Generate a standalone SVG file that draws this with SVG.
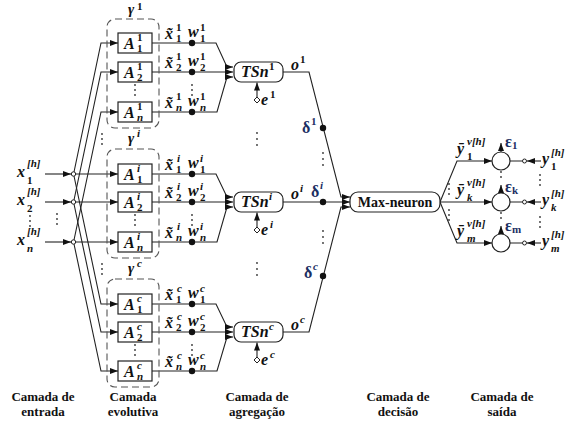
<svg xmlns="http://www.w3.org/2000/svg" width="569" height="421" viewBox="0 0 569 421">
<defs>
<style>
.ln{fill:none;stroke:#222;stroke-width:1.1}
.bx{fill:#fff;stroke:#222;stroke-width:1.2}
.dsh{fill:none;stroke:#555;stroke-width:1.1;stroke-dasharray:7 4}
.dot{fill:#111}
.sd{fill:#333}
.oc{fill:#fff;stroke:#222;stroke-width:1}
.m{font-family:"Liberation Serif","Times New Roman",serif;font-weight:bold;font-style:italic;font-size:16px;fill:#111}
.s{font-size:11px}
.u{font-style:normal}
.g{fill:#1c2f63;font-style:normal}
.cap{font-family:"Liberation Serif","Times New Roman",serif;font-weight:bold;font-size:13px;text-anchor:middle;fill:#111}
.mx{font-family:"Liberation Serif","Times New Roman",serif;font-weight:bold;font-size:14px;text-anchor:middle;fill:#111}
</style>
<marker id="ah" viewBox="0 0 8 6" markerWidth="8" markerHeight="6" refX="8" refY="3" orient="auto" markerUnits="userSpaceOnUse"><path d="M0,0L8,3L0,6z" fill="#111"/></marker>
</defs>
<rect width="569" height="421" fill="#fff"/>

<g id="connectors">
  <path class="ln" d="M45,174L71,174" marker-end="url(#ah)"/>
  <path class="ln" d="M45,202L71,202" marker-end="url(#ah)"/>
  <path class="ln" d="M45,242L71,242" marker-end="url(#ah)"/>
  <path class="ln" d="M75,174L118,174" marker-end="url(#ah)"/>
  <path class="ln" d="M75,202L118,202" marker-end="url(#ah)"/>
  <path class="ln" d="M75,242L118,242" marker-end="url(#ah)"/>
  <path class="ln" d="M74,172L101,43L118,43" marker-end="url(#ah)"/>
  <path class="ln" d="M74,200L101,72L118,72" marker-end="url(#ah)"/>
  <path class="ln" d="M74,240L101,112L118,112" marker-end="url(#ah)"/>
  <path class="ln" d="M74,176L101,304L118,304" marker-end="url(#ah)"/>
  <path class="ln" d="M74,204L101,332L118,332" marker-end="url(#ah)"/>
  <path class="ln" d="M74,244L101,371L118,371" marker-end="url(#ah)"/>
  <path class="ln" d="M152,43H192M152,72H192M152,112H192"/>
  <path class="ln" d="M152,174H192M152,202H192M152,242H192"/>
  <path class="ln" d="M152,304H192M152,332H192M152,371H192"/>
  <path class="ln" d="M192,43L216,43L227,67L233,67" marker-end="url(#ah)"/>
  <path class="ln" d="M192,72L233,72" marker-end="url(#ah)"/>
  <path class="ln" d="M192,112L217,112L227,77L233,77" marker-end="url(#ah)"/>
  <path class="ln" d="M192,174L216,174L227,197L233,197" marker-end="url(#ah)"/>
  <path class="ln" d="M192,202L233,202" marker-end="url(#ah)"/>
  <path class="ln" d="M192,242L217,242L227,207L233,207" marker-end="url(#ah)"/>
  <path class="ln" d="M192,304L216,304L227,327L233,327" marker-end="url(#ah)"/>
  <path class="ln" d="M192,332L233,332" marker-end="url(#ah)"/>
  <path class="ln" d="M192,371L217,371L227,337L233,337" marker-end="url(#ah)"/>
  <path class="ln" d="M257,97L257,82.5" marker-end="url(#ah)"/>
  <path class="ln" d="M257,227L257,212.5" marker-end="url(#ah)"/>
  <path class="ln" d="M257,357L257,342.5" marker-end="url(#ah)"/>
  <path class="ln" d="M283,72L309,72L341,197L350,197" marker-end="url(#ah)"/>
  <path class="ln" d="M283,202L350,202" marker-end="url(#ah)"/>
  <path class="ln" d="M283,332L309,332L341,207L350,207" marker-end="url(#ah)"/>
  <path class="ln" d="M440,202L457,161L492,161" marker-end="url(#ah)"/>
  <path class="ln" d="M440,202L492,202" marker-end="url(#ah)"/>
  <path class="ln" d="M440,202L457,243L492,243" marker-end="url(#ah)"/>
  <path class="ln" d="M501,152L501,143" marker-end="url(#ah)"/>
  <path class="ln" d="M501,193L501,185" marker-end="url(#ah)"/>
  <path class="ln" d="M501,234L501,226" marker-end="url(#ah)"/>
  <path class="ln" d="M541,161L527,161" marker-end="url(#ah)"/>
  <path class="ln" d="M541,202L527,202" marker-end="url(#ah)"/>
  <path class="ln" d="M541,243L527,243" marker-end="url(#ah)"/>
  <path class="ln" d="M522.5,161H510M522.5,202H510M522.5,243H510"/>
</g>

<g id="junctions">
  <circle class="oc" cx="73.5" cy="174" r="2.2"/>
  <circle class="oc" cx="73.5" cy="202" r="2.2"/>
  <circle class="oc" cx="73.5" cy="242" r="2.2"/>
  <circle class="oc" cx="524.5" cy="161" r="2"/>
  <circle class="oc" cx="524.5" cy="202" r="2"/>
  <circle class="oc" cx="524.5" cy="243" r="2"/>
  <path class="oc" d="M257,97l3,3l-3,3l-3,-3z"/>
  <path class="oc" d="M257,227l3,3l-3,3l-3,-3z"/>
  <path class="oc" d="M257,357l3,3l-3,3l-3,-3z"/>
  <circle class="dot" cx="192" cy="43" r="3.2"/><circle class="dot" cx="192" cy="72" r="3.2"/><circle class="dot" cx="192" cy="112" r="3.2"/>
  <circle class="dot" cx="192" cy="174" r="3.2"/><circle class="dot" cx="192" cy="202" r="3.2"/><circle class="dot" cx="192" cy="242" r="3.2"/>
  <circle class="dot" cx="192" cy="304" r="3.2"/><circle class="dot" cx="192" cy="332" r="3.2"/><circle class="dot" cx="192" cy="371" r="3.2"/>
  <circle class="dot" cx="323" cy="128" r="3.2"/><circle class="dot" cx="323" cy="202" r="3.2"/><circle class="dot" cx="323" cy="276" r="3.2"/>
</g>

<g id="ellipsis" class="sd">
  <circle cx="102" cy="134" r="0.9"/><circle cx="102" cy="139" r="0.9"/><circle cx="102" cy="144" r="0.9"/>
  <circle cx="102" cy="264" r="0.9"/><circle cx="102" cy="269" r="0.9"/><circle cx="102" cy="274" r="0.9"/>
  <circle cx="57" cy="214" r="0.9"/><circle cx="57" cy="219" r="0.9"/><circle cx="57" cy="224" r="0.9"/>
  <circle cx="30" cy="216" r="0.9"/><circle cx="30" cy="221" r="0.9"/><circle cx="30" cy="226" r="0.9"/>
  <circle cx="135" cy="85" r="0.9"/><circle cx="135" cy="90" r="0.9"/><circle cx="135" cy="95" r="0.9"/>
  <circle cx="135" cy="215" r="0.9"/><circle cx="135" cy="220" r="0.9"/><circle cx="135" cy="225" r="0.9"/>
  <circle cx="135" cy="345" r="0.9"/><circle cx="135" cy="350" r="0.9"/><circle cx="135" cy="355" r="0.9"/>
  <circle cx="192" cy="85" r="0.9"/><circle cx="192" cy="90" r="0.9"/><circle cx="192" cy="95" r="0.9"/>
  <circle cx="192" cy="215" r="0.9"/><circle cx="192" cy="220" r="0.9"/><circle cx="192" cy="225" r="0.9"/>
  <circle cx="192" cy="345" r="0.9"/><circle cx="192" cy="350" r="0.9"/><circle cx="192" cy="355" r="0.9"/>
  <circle cx="257" cy="133" r="0.9"/><circle cx="257" cy="139" r="0.9"/><circle cx="257" cy="145" r="0.9"/>
  <circle cx="257" cy="263" r="0.9"/><circle cx="257" cy="269" r="0.9"/><circle cx="257" cy="275" r="0.9"/>
  <circle cx="323" cy="153" r="0.9"/><circle cx="323" cy="159" r="0.9"/><circle cx="323" cy="165" r="0.9"/>
  <circle cx="323" cy="231" r="0.9"/><circle cx="323" cy="237" r="0.9"/><circle cx="323" cy="243" r="0.9"/>
  <circle cx="449" cy="184" r="0.9"/><circle cx="449" cy="189" r="0.9"/><circle cx="449" cy="194" r="0.9"/>
  <circle cx="449" cy="210" r="0.9"/><circle cx="449" cy="215" r="0.9"/><circle cx="449" cy="220" r="0.9"/>
  <circle cx="501" cy="172" r="0.9"/><circle cx="501" cy="177" r="0.9"/>
  <circle cx="501" cy="213" r="0.9"/><circle cx="501" cy="218" r="0.9"/>
  <circle cx="540" cy="175" r="0.9"/><circle cx="540" cy="180" r="0.9"/><circle cx="540" cy="185" r="0.9"/>
  <circle cx="540" cy="217" r="0.9"/><circle cx="540" cy="222" r="0.9"/><circle cx="540" cy="227" r="0.9"/>
</g>

<g id="inputs" class="m">
  <text><tspan x="17" y="177">x</tspan><tspan class="s" x="27" y="167">[h]</tspan><tspan class="s u" x="27" y="184">1</tspan></text>
  <text><tspan x="17" y="205">x</tspan><tspan class="s" x="27" y="195">[h]</tspan><tspan class="s u" x="27" y="212">2</tspan></text>
  <text><tspan x="17" y="245">x</tspan><tspan class="s" x="27" y="235">[h]</tspan><tspan class="s" x="27" y="252">n</tspan></text>
</g>

<g id="rule-1">
  <rect class="dsh" x="107" y="19" width="52" height="109" rx="8"/>
  <text class="m"><tspan x="128" y="14" font-size="15">γ</tspan><tspan class="s u" x="137" y="10">1</tspan></text>
  <rect class="bx" x="118" y="33" width="34" height="20"/>
  <rect class="bx" x="118" y="62" width="34" height="20"/>
  <rect class="bx" x="118" y="102" width="34" height="20"/>
  <text class="m"><tspan x="124" y="49">A</tspan><tspan class="s u" x="137" y="41">1</tspan><tspan class="s u" x="137" y="52">1</tspan></text>
  <text class="m"><tspan x="124" y="78">A</tspan><tspan class="s u" x="137" y="70">1</tspan><tspan class="s u" x="137" y="81">2</tspan></text>
  <text class="m"><tspan x="124" y="118">A</tspan><tspan class="s u" x="137" y="110">1</tspan><tspan class="s" x="137" y="121">n</tspan></text>
  <text class="m"><tspan x="165" y="39">x&#x303;</tspan><tspan class="s u" x="176" y="31">1</tspan><tspan class="s u" x="176" y="42">1</tspan></text>
  <text class="m"><tspan x="165" y="68">x&#x303;</tspan><tspan class="s u" x="176" y="60">1</tspan><tspan class="s u" x="176" y="71">2</tspan></text>
  <text class="m"><tspan x="165" y="108">x&#x303;</tspan><tspan class="s u" x="176" y="100">1</tspan><tspan class="s" x="176" y="111">n</tspan></text>
  <text class="m"><tspan x="188" y="37">w</tspan><tspan class="s u" x="200" y="31">1</tspan><tspan class="s u" x="200" y="42">1</tspan></text>
  <text class="m"><tspan x="188" y="66">w</tspan><tspan class="s u" x="200" y="60">1</tspan><tspan class="s u" x="200" y="71">2</tspan></text>
  <text class="m"><tspan x="188" y="106">w</tspan><tspan class="s u" x="200" y="100">1</tspan><tspan class="s" x="200" y="111">n</tspan></text>
</g>

<g id="rule-i">
  <rect class="dsh" x="107" y="149" width="52" height="109" rx="8"/>
  <text class="m"><tspan x="128" y="143" font-size="15">γ</tspan><tspan class="s" x="137" y="137">i</tspan></text>
  <rect class="bx" x="118" y="164" width="34" height="20"/>
  <rect class="bx" x="118" y="192" width="34" height="20"/>
  <rect class="bx" x="118" y="232" width="34" height="20"/>
  <text class="m"><tspan x="124" y="180">A</tspan><tspan class="s" x="137" y="172">i</tspan><tspan class="s u" x="137" y="183">1</tspan></text>
  <text class="m"><tspan x="124" y="208">A</tspan><tspan class="s" x="137" y="200">i</tspan><tspan class="s u" x="137" y="211">2</tspan></text>
  <text class="m"><tspan x="124" y="248">A</tspan><tspan class="s" x="137" y="240">i</tspan><tspan class="s" x="137" y="251">n</tspan></text>
  <text class="m"><tspan x="165" y="170">x&#x303;</tspan><tspan class="s" x="177" y="162">i</tspan><tspan class="s u" x="176" y="173">1</tspan></text>
  <text class="m"><tspan x="165" y="198">x&#x303;</tspan><tspan class="s" x="177" y="190">i</tspan><tspan class="s u" x="176" y="201">2</tspan></text>
  <text class="m"><tspan x="165" y="238">x&#x303;</tspan><tspan class="s" x="177" y="230">i</tspan><tspan class="s" x="176" y="241">n</tspan></text>
  <text class="m"><tspan x="188" y="168">w</tspan><tspan class="s" x="200" y="162">i</tspan><tspan class="s u" x="200" y="173">1</tspan></text>
  <text class="m"><tspan x="188" y="196">w</tspan><tspan class="s" x="200" y="190">i</tspan><tspan class="s u" x="200" y="201">2</tspan></text>
  <text class="m"><tspan x="188" y="236">w</tspan><tspan class="s" x="200" y="230">i</tspan><tspan class="s" x="200" y="241">n</tspan></text>
</g>

<g id="rule-c">
  <rect class="dsh" x="107" y="279" width="52" height="108" rx="8"/>
  <text class="m"><tspan x="128" y="273" font-size="15">γ</tspan><tspan class="s" x="137" y="267">c</tspan></text>
  <rect class="bx" x="118" y="294" width="34" height="20"/>
  <rect class="bx" x="118" y="322" width="34" height="20"/>
  <rect class="bx" x="118" y="361" width="34" height="20"/>
  <text class="m"><tspan x="124" y="310">A</tspan><tspan class="s" x="137" y="302">c</tspan><tspan class="s u" x="137" y="313">1</tspan></text>
  <text class="m"><tspan x="124" y="338">A</tspan><tspan class="s" x="137" y="330">c</tspan><tspan class="s u" x="137" y="341">2</tspan></text>
  <text class="m"><tspan x="124" y="377">A</tspan><tspan class="s" x="137" y="369">c</tspan><tspan class="s" x="137" y="380">n</tspan></text>
  <text class="m"><tspan x="165" y="300">x&#x303;</tspan><tspan class="s" x="177" y="292">c</tspan><tspan class="s u" x="176" y="303">1</tspan></text>
  <text class="m"><tspan x="165" y="328">x&#x303;</tspan><tspan class="s" x="177" y="320">c</tspan><tspan class="s u" x="176" y="331">2</tspan></text>
  <text class="m"><tspan x="165" y="367">x&#x303;</tspan><tspan class="s" x="177" y="359">c</tspan><tspan class="s" x="176" y="370">n</tspan></text>
  <text class="m"><tspan x="188" y="298">w</tspan><tspan class="s" x="200" y="292">c</tspan><tspan class="s u" x="200" y="303">1</tspan></text>
  <text class="m"><tspan x="188" y="326">w</tspan><tspan class="s" x="200" y="320">c</tspan><tspan class="s u" x="200" y="331">2</tspan></text>
  <text class="m"><tspan x="188" y="365">w</tspan><tspan class="s" x="200" y="359">c</tspan><tspan class="s" x="200" y="370">n</tspan></text>
</g>

<g id="tsn-1">
  <rect class="bx" x="234" y="62" width="49" height="20" rx="7"/>
  <text class="m" font-size="14"><tspan x="241" y="77">TSn</tspan><tspan class="s u" x="269" y="70">1</tspan></text>
  <text class="m"><tspan x="261" y="105">e</tspan><tspan class="s u" x="270" y="98">1</tspan></text>
  <text class="m"><tspan x="291" y="70">o</tspan><tspan class="s u" x="300" y="63">1</tspan></text>
  <text class="m g" font-size="15"><tspan x="302" y="133">δ</tspan><tspan class="s" x="311" y="125">1</tspan></text>
</g>
<g id="tsn-i">
  <rect class="bx" x="234" y="192" width="49" height="20" rx="7"/>
  <text class="m" font-size="14"><tspan x="241" y="207">TSn</tspan><tspan class="s" x="269" y="200">i</tspan></text>
  <text class="m"><tspan x="261" y="235">e</tspan><tspan class="s" x="270" y="228">i</tspan></text>
  <text class="m"><tspan x="291" y="199">o</tspan><tspan class="s" x="300" y="192">i</tspan></text>
  <text class="m g" font-size="15"><tspan x="311" y="197">δ</tspan><tspan class="s" x="320" y="189" font-style="italic">i</tspan></text>
</g>
<g id="tsn-c">
  <rect class="bx" x="234" y="322" width="49" height="20" rx="7"/>
  <text class="m" font-size="14"><tspan x="241" y="337">TSn</tspan><tspan class="s" x="269" y="330">c</tspan></text>
  <text class="m"><tspan x="261" y="365">e</tspan><tspan class="s" x="270" y="358">c</tspan></text>
  <text class="m"><tspan x="291" y="330">o</tspan><tspan class="s" x="300" y="323">c</tspan></text>
  <text class="m g" font-size="15"><tspan x="304" y="278">δ</tspan><tspan class="s" x="313" y="270" font-style="italic">c</tspan></text>
</g>

<g id="max-neuron">
  <rect class="bx" x="350" y="192" width="90" height="20" rx="8"/>
  <text class="mx" x="395" y="207">Max-neuron</text>
</g>

<g id="out-1">
  <circle class="bx" cx="501" cy="161" r="9"/>
  <text class="m"><tspan x="457" y="154">ȳ</tspan><tspan class="s" x="467" y="145">ν[h]</tspan><tspan class="s u" x="467" y="160">1</tspan></text>
  <text class="m g" font-size="13"><tspan x="505" y="147">ε</tspan><tspan class="s" x="512" y="149" font-size="9">1</tspan></text>
  <text class="m"><tspan x="542" y="164">y</tspan><tspan class="s" x="551" y="156">[h]</tspan><tspan class="s u" x="551" y="170">1</tspan></text>
</g>
<g id="out-k">
  <circle class="bx" cx="501" cy="202" r="9"/>
  <text class="m"><tspan x="457" y="195">ȳ</tspan><tspan class="s" x="467" y="186">ν[h]</tspan><tspan class="s" x="467" y="201">k</tspan></text>
  <text class="m g" font-size="13"><tspan x="505" y="192">ε</tspan><tspan class="s" x="512" y="194" font-size="9">k</tspan></text>
  <text class="m"><tspan x="542" y="205">y</tspan><tspan class="s" x="551" y="197">[h]</tspan><tspan class="s" x="551" y="211">k</tspan></text>
</g>
<g id="out-m">
  <circle class="bx" cx="501" cy="243" r="9"/>
  <text class="m"><tspan x="457" y="236">ȳ</tspan><tspan class="s" x="467" y="227">ν[h]</tspan><tspan class="s" x="467" y="242">m</tspan></text>
  <text class="m g" font-size="13"><tspan x="505" y="231">ε</tspan><tspan class="s" x="512" y="233" font-size="9">m</tspan></text>
  <text class="m"><tspan x="542" y="246">y</tspan><tspan class="s" x="551" y="238">[h]</tspan><tspan class="s" x="551" y="252">m</tspan></text>
</g>

<g id="captions" class="cap">
  <text x="43" y="401">Camada de</text><text x="43" y="416">entrada</text>
  <text x="133" y="401">Camada</text><text x="133" y="416">evolutiva</text>
  <text x="257" y="401">Camada de</text><text x="257" y="416">agregação</text>
  <text x="398" y="401">Camada de</text><text x="398" y="416">decisão</text>
  <text x="502" y="401">Camada de</text><text x="502" y="416">saída</text>
</g>
</svg>
